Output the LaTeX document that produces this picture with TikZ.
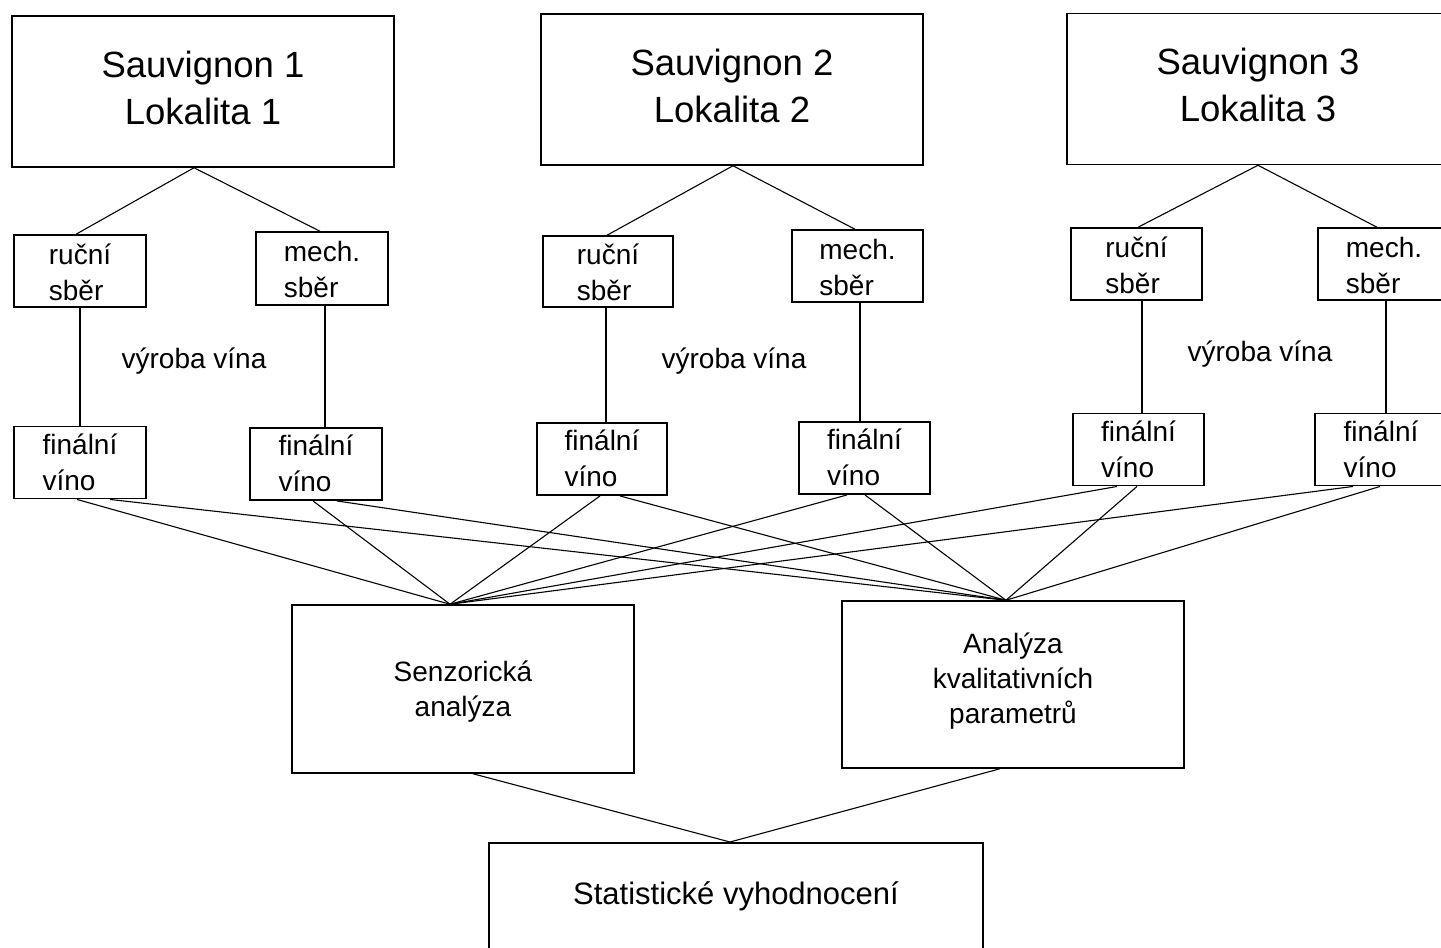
\documentclass[tikz,border=0pt]{standalone}
\usepackage{fontspec}
\setmainfont{Liberation Sans}
\newcommand{\sth}{\rule{0pt}{1em}}
\newcommand{\std}{\rule[-0.3em]{0pt}{0.3em}}
\newcommand{\stdx}[1]{\rule[-\dimexpr0.3em+#1\relax]{0pt}{\dimexpr0.3em+#1\relax}}
\tikzset{
  box/.style={draw, line width=1.5pt, inner sep=0pt, align=center},
  bigbox/.style={box, minimum width=382, minimum height=151, font=\fontsize{36.5}{47}\selectfont},
  smallbox/.style={box, align=left, font=\fontsize{28}{36}\selectfont},
  anbox/.style={box, minimum width=342, minimum height=167, font=\fontsize{28}{35}\selectfont},
  link/.style={line width=1.1pt},
  lbl/.style={inner sep=0pt, font=\fontsize{28}{35}\selectfont, anchor=base}
}
\begin{document}
\begin{tikzpicture}[x=1pt,y=-1pt]
\fill[white] (0,0) rectangle (1441,948);
\useasboundingbox (0,0) rectangle (1441,948);
\clip (0,0) rectangle (1441,948);

% top boxes
\node[bigbox] (s1) at (203,91.5) {\sth Sauvignon 1\\Lokalita 1\stdx{7pt}};
\node[bigbox] (s2) at (732,89.5) {\sth Sauvignon 2\\Lokalita 2\stdx{7pt}};
\node[bigbox] (s3) at (1258,89) {\sth Sauvignon 3\\Lokalita 3\stdx{7pt}};

% harvest boxes
\node[smallbox, minimum width=132, minimum height=72] (r1) at (80,271) {\sth ruční\\sběr\stdx{-3pt}};
\node[smallbox, minimum width=132, minimum height=73] (m1) at (322,268.5) {\sth mech.\\sběr\stdx{-3pt}};
\node[smallbox, minimum width=130, minimum height=71] (r2) at (608,271.5) {\sth ruční\\sběr\stdx{-3pt}};
\node[smallbox, minimum width=131, minimum height=72] (m2) at (857.5,266) {\sth mech.\\sběr\stdx{-3pt}};
\node[smallbox, minimum width=131, minimum height=72] (r3) at (1136.5,264) {\sth ruční\\sběr\stdx{-3pt}};
\node[smallbox, minimum width=132, minimum height=72] (m3) at (1384,264) {\sth mech.\\sběr\stdx{-3pt}};

% labels
\node[lbl] (w1) at (194,368) {výroba vína};
\node[lbl] (w2) at (734,368) {výroba vína};
\node[lbl] (w3) at (1260,361) {výroba vína};

% final wine boxes
\node[smallbox, minimum width=132, minimum height=69] (f1) at (80,462.5) {\sth finální\\víno\std};
\node[smallbox, minimum width=132, minimum height=68] (f2) at (316,464) {\sth finální\\víno\std};
\node[smallbox, minimum width=130, minimum height=68] (f3) at (602,459) {\sth finální\\víno\std};
\node[smallbox, minimum width=131, minimum height=68] (f4) at (864.5,458) {\sth finální\\víno\std};
\node[smallbox, minimum width=131, minimum height=69] (f5) at (1138.5,449.5) {\sth finální\\víno\std};
\node[smallbox, minimum width=132, minimum height=69] (f6) at (1381,449.5) {\sth finální\\víno\std};

% analysis boxes
\node[anbox, minimum height=168] (sa) at (463,689) {\sth Senzorická\\analýza\std};
\node[anbox] (qa) at (1013,684.5) {\sth Analýza\\kvalitativních\\parametrů\stdx{12pt}};

% statistics
\node[box, minimum width=494, text height=62, text depth=120, anchor=north,
      font=\fontsize{31}{38}\selectfont] (st) at (736,842) {Statistické vyhodnocení};

% top connectors
\draw[link] ([xshift=-9]s1.south) -- ([xshift=-4]r1.north);
\draw[link] ([xshift=-9]s1.south) -- ([xshift=-2]m1.north);
\draw[link] ([xshift=1]s2.south) -- ([xshift=-1]r2.north);
\draw[link] ([xshift=1]s2.south) -- ([xshift=-2.5]m2.north);
\draw[link] (s3.south) -- ([xshift=1.5]r3.north);
\draw[link] (s3.south) -- ([xshift=-7]m3.north);

% vertical connectors
\draw[link] (r1.south) -- (f1.north);
\draw[link] ([xshift=3]m1.south) -- ([xshift=9]f2.north);
\draw[link] ([xshift=-2]r2.south) -- ([xshift=4]f3.north);
\draw[link] ([xshift=2.5]m2.south) -- ([xshift=-4.5]f4.north);
\draw[link] ([xshift=5.5]r3.south) -- ([xshift=3.5]f5.north);
\draw[link] ([xshift=2]m3.south) -- ([xshift=5]f6.north);

% to sensory analysis
\draw[link] ([xshift=-3]f1.south) -- ([xshift=-13]sa.north);
\draw[link] ([xshift=-3]f2.south) -- ([xshift=-13]sa.north);
\draw[link] ([xshift=-2]f3.south) -- ([xshift=-13]sa.north);
\draw[link] ([xshift=-17.5]f4.south) -- ([xshift=-13]sa.north);
\draw[link] ([xshift=-21.5]f5.south) -- ([xshift=-13]sa.north);
\draw[link] ([xshift=-28]f6.south) -- ([xshift=-13]sa.north);

% to quality analysis
\draw[link] ([xshift=30]f1.south) -- ([xshift=-7]qa.north);
\draw[link] ([xshift=21]f2.south) -- ([xshift=-7]qa.north);
\draw[link] ([xshift=18]f3.south) -- ([xshift=-7]qa.north);
\draw[link] ([xshift=0.5]f4.south) -- ([xshift=-7]qa.north);
\draw[link] ([xshift=-1.5]f5.south) -- ([xshift=-7]qa.north);
\draw[link] ([xshift=-1]f6.south) -- ([xshift=-7]qa.north);

% to statistics
\draw[link] ([xshift=10]sa.south) -- ([xshift=-6]st.north);
\draw[link] ([xshift=-13]qa.south) -- ([xshift=-6]st.north);
\end{tikzpicture}
\end{document}
